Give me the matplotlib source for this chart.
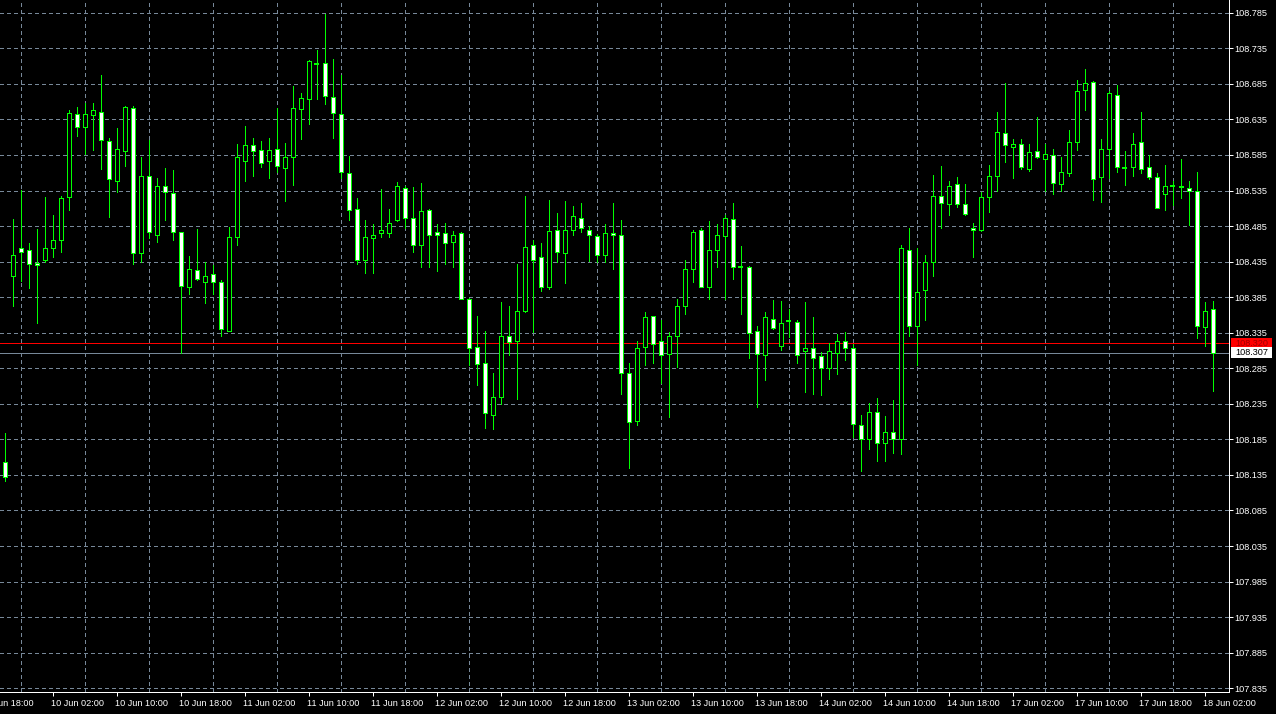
import matplotlib
matplotlib.use("Agg")
import matplotlib.pyplot as plt
import matplotlib.transforms as mtransforms
from matplotlib.patches import Rectangle
import numpy as np

# ----------------------------
# Data (H1 candles)
# ----------------------------
opens = [
    108.153, 108.415, 108.454, 108.451, 108.433, 108.438, 108.454, 108.466, 108.526, 108.642,
    108.625, 108.641, 108.646, 108.604, 108.549, 108.591, 108.651, 108.447, 108.555, 108.472,
    108.542, 108.531, 108.476, 108.400, 108.423, 108.407, 108.418, 108.406, 108.338, 108.469,
    108.577, 108.599, 108.592, 108.577, 108.593, 108.567, 108.582, 108.649, 108.664, 108.713,
    108.714, 108.667, 108.642, 108.559, 108.509, 108.438, 108.468, 108.475, 108.475, 108.493,
    108.538, 108.497, 108.459, 108.507, 108.476, 108.475, 108.462, 108.475, 108.383, 108.315,
    108.292, 108.220, 108.244, 108.330, 108.324, 108.365, 108.458, 108.441, 108.400, 108.479,
    108.447, 108.480, 108.497, 108.479, 108.471, 108.444, 108.475, 108.473, 108.278, 108.211,
    108.315, 108.358, 108.323, 108.305, 108.331, 108.372, 108.424, 108.479, 108.400, 108.452,
    108.471, 108.495, 108.428, 108.428, 108.337, 108.303, 108.355, 108.317, 108.351, 108.350,
    108.309, 108.313, 108.302, 108.285, 108.306, 108.324, 108.313, 108.205, 108.185, 108.223,
    108.180, 108.195, 108.185, 108.452, 108.345, 108.395, 108.435, 108.528, 108.516, 108.544,
    108.516, 108.483, 108.479, 108.526, 108.555, 108.616, 108.596, 108.600, 108.566, 108.590,
    108.580, 108.585, 108.544, 108.559, 108.603, 108.676, 108.687, 108.554, 108.593, 108.670,
    108.567, 108.568, 108.603, 108.568, 108.554, 108.530, 108.542, 108.541, 108.538, 108.535,
    108.343, 108.369,
]
highs = [
    108.194, 108.495, 108.536, 108.461, 108.481, 108.526, 108.501, 108.528, 108.648, 108.653,
    108.658, 108.658, 108.698, 108.609, 108.623, 108.654, 108.654, 108.582, 108.606, 108.552,
    108.567, 108.564, 108.477, 108.443, 108.481, 108.435, 108.430, 108.409, 108.484, 108.601,
    108.626, 108.609, 108.605, 108.609, 108.651, 108.602, 108.682, 108.672, 108.718, 108.733,
    108.783, 108.720, 108.698, 108.584, 108.524, 108.494, 108.488, 108.537, 108.509, 108.547,
    108.542, 108.540, 108.546, 108.509, 108.488, 108.489, 108.478, 108.476, 108.384, 108.359,
    108.337, 108.278, 108.378, 108.373, 108.432, 108.528, 108.465, 108.461, 108.521, 108.504,
    108.520, 108.513, 108.518, 108.485, 108.474, 108.488, 108.518, 108.493, 108.293, 108.323,
    108.364, 108.359, 108.353, 108.336, 108.382, 108.438, 108.480, 108.482, 108.492, 108.488,
    108.500, 108.518, 108.457, 108.429, 108.344, 108.364, 108.381, 108.379, 108.369, 108.353,
    108.378, 108.357, 108.308, 108.320, 108.333, 108.336, 108.319, 108.220, 108.236, 108.243,
    108.218, 108.241, 108.459, 108.483, 108.454, 108.445, 108.557, 108.570, 108.548, 108.554,
    108.544, 108.490, 108.533, 108.571, 108.646, 108.686, 108.607, 108.607, 108.601, 108.639,
    108.601, 108.594, 108.582, 108.620, 108.690, 108.706, 108.689, 108.607, 108.675, 108.683,
    108.590, 108.616, 108.645, 108.585, 108.559, 108.571, 108.549, 108.579, 108.549, 108.561,
    108.378, 108.379,
]
lows = [
    108.127, 108.373, 108.408, 108.398, 108.348, 108.435, 108.441, 108.448, 108.507, 108.612,
    108.586, 108.592, 108.566, 108.498, 108.533, 108.570, 108.432, 108.435, 108.468, 108.462,
    108.494, 108.466, 108.306, 108.390, 108.409, 108.377, 108.390, 108.331, 108.337, 108.458,
    108.548, 108.555, 108.568, 108.553, 108.561, 108.520, 108.543, 108.607, 108.628, 108.664,
    108.657, 108.609, 108.552, 108.494, 108.431, 108.419, 108.419, 108.469, 108.469, 108.492,
    108.483, 108.448, 108.428, 108.428, 108.422, 108.431, 108.428, 108.382, 108.289, 108.262,
    108.201, 108.199, 108.235, 108.303, 108.242, 108.364, 108.336, 108.394, 108.397, 108.435,
    108.405, 108.472, 108.476, 108.436, 108.434, 108.435, 108.424, 108.249, 108.145, 108.205,
    108.290, 108.292, 108.265, 108.217, 108.287, 108.362, 108.407, 108.399, 108.383, 108.428,
    108.383, 108.410, 108.362, 108.299, 108.230, 108.269, 108.340, 108.311, 108.329, 108.293,
    108.251, 108.249, 108.248, 108.270, 108.277, 108.296, 108.189, 108.140, 108.172, 108.154,
    108.155, 108.166, 108.165, 108.331, 108.289, 108.353, 108.415, 108.483, 108.501, 108.512,
    108.501, 108.442, 108.478, 108.505, 108.535, 108.575, 108.552, 108.566, 108.563, 108.581,
    108.535, 108.530, 108.534, 108.556, 108.592, 108.648, 108.521, 108.519, 108.552, 108.561,
    108.543, 108.555, 108.559, 108.551, 108.510, 108.508, 108.514, 108.525, 108.487, 108.327,
    108.317, 108.253,
]
closes = [
    108.132, 108.445, 108.449, 108.431, 108.430, 108.454, 108.466, 108.524, 108.644, 108.624,
    108.642, 108.648, 108.606, 108.551, 108.593, 108.652, 108.447, 108.556, 108.476, 108.542,
    108.533, 108.476, 108.401, 108.424, 108.410, 108.415, 108.407, 108.340, 108.469, 108.582,
    108.599, 108.590, 108.574, 108.592, 108.570, 108.582, 108.651, 108.665, 108.717, 108.713,
    108.668, 108.644, 108.561, 108.508, 108.438, 108.469, 108.473, 108.480, 108.490, 108.542,
    108.497, 108.459, 108.506, 108.473, 108.473, 108.461, 108.473, 108.383, 108.313, 108.291,
    108.222, 108.244, 108.331, 108.322, 108.365, 108.455, 108.438, 108.400, 108.478, 108.448,
    108.480, 108.499, 108.483, 108.472, 108.444, 108.475, 108.472, 108.278, 108.210, 108.313,
    108.357, 108.319, 108.303, 108.331, 108.372, 108.424, 108.476, 108.400, 108.452, 108.472,
    108.496, 108.427, 108.428, 108.334, 108.305, 108.357, 108.341, 108.348, 108.351, 108.303,
    108.313, 108.300, 108.285, 108.309, 108.324, 108.313, 108.206, 108.185, 108.223, 108.180,
    108.195, 108.185, 108.454, 108.344, 108.392, 108.435, 108.528, 108.518, 108.542, 108.516,
    108.502, 108.479, 108.526, 108.555, 108.617, 108.599, 108.601, 108.568, 108.589, 108.582,
    108.587, 108.545, 108.561, 108.603, 108.675, 108.686, 108.551, 108.593, 108.672, 108.568,
    108.567, 108.601, 108.566, 108.554, 108.511, 108.542, 108.542, 108.540, 108.535, 108.344,
    108.365, 108.307,
]

time_labels = [
    "10 Jun 02:00", "10 Jun 10:00", "10 Jun 18:00", "11 Jun 02:00", "11 Jun 10:00",
    "11 Jun 18:00", "12 Jun 02:00", "12 Jun 10:00", "12 Jun 18:00", "13 Jun 02:00",
    "13 Jun 10:00", "13 Jun 18:00", "14 Jun 02:00", "14 Jun 10:00", "14 Jun 18:00",
    "17 Jun 02:00", "17 Jun 10:00", "17 Jun 18:00", "18 Jun 02:00",
]
first_label = "9 Jun 18:00"

ask_price = 108.320
bid_price = 108.307

# ----------------------------
# Style (MT4 "green on black")
# ----------------------------
BG = "black"
FG = "white"
CANDLE = "#00FF00"
GRID = "#778899"
PX = 0.72  # 1 pixel in points at dpi=100
FS = 6.6

plt.rcParams["font.family"] = ["Liberation Sans", "DejaVu Sans"]

o = np.array(opens)
h = np.array(highs)
l = np.array(lows)
c = np.array(closes)
x = np.arange(len(o))

fig = plt.figure(figsize=(12.76, 7.14), dpi=100, facecolor=BG)
ax = fig.add_axes([0, 22 / 714, 1229 / 1276, 692 / 714], facecolor=BG)

# wicks
ax.vlines(x, l, h, color=CANDLE, linewidth=PX, antialiased=False, zorder=3)

# bodies: white = bearish, black = bullish
is_doji = o == c
body = ~is_doji
fills = np.where(c[body] < o[body], "white", "black")
ax.bar(x[body], np.abs(c[body] - o[body]), bottom=np.minimum(o, c)[body],
       width=0.5, color=fills, edgecolor=CANDLE, linewidth=PX,
       antialiased=False, zorder=4)
ax.hlines(o[is_doji], x[is_doji] - 0.3, x[is_doji] + 0.3,
          color=CANDLE, linewidth=2 * PX, antialiased=False, zorder=4)

# ask / bid lines
ax.axhline(ask_price, color="red", linewidth=PX, antialiased=False, zorder=2)
ax.axhline(bid_price, color=GRID, linewidth=PX, antialiased=False, zorder=2)

# ----------------------------
# Axes
# ----------------------------
ax.set_xlim(-0.5625, 153.06)
ax.set_ylim(107.8297, 108.803)

price_ticks = 107.835 + 0.05 * np.arange(20)
ax.yaxis.tick_right()
ax.set_yticks(price_ticks)
ax.set_yticklabels([f"{p:.3f}" for p in price_ticks])

label_pos = 6 + 8 * np.arange(len(time_labels))
ax.set_xticks(label_pos)
ax.set_xticklabels(time_labels, ha="left")
ax.set_xticks(2 + 4 * np.arange(38), minor=True)

ax.tick_params(axis="both", which="major", colors=FG, labelcolor=FG,
               labelsize=FS, length=3, width=PX)
ax.tick_params(axis="x", which="major", pad=2)
ax.tick_params(axis="y", which="major", pad=0.8)
ax.tick_params(axis="x", which="minor", length=0)

# time labels start just left of their tick, like the terminal does
shift = mtransforms.ScaledTranslation(-2 / 100, 0, fig.dpi_scale_trans)
for lab in ax.get_xticklabels():
    lab.set_transform(lab.get_transform() + shift)

ax.grid(True, which="minor", axis="x", color=GRID, linestyle=(0, (4, 3)),
        linewidth=PX, antialiased=False)
ax.grid(True, which="major", axis="y", color=GRID, linestyle=(0, (4, 3)),
        linewidth=PX, antialiased=False)
ax.set_axisbelow(True)

for side in ("left", "top"):
    ax.spines[side].set_visible(False)
for side in ("right", "bottom"):
    ax.spines[side].set_color(FG)
    ax.spines[side].set_linewidth(PX)

# partly hidden first time label at the left edge
ax.annotate(first_label, xy=(-2, 0), xycoords=ax.get_xaxis_transform(),
            xytext=(-1.44, -5), textcoords="offset points",
            ha="left", va="top", fontsize=FS, color=FG, annotation_clip=False)

# price tags on the right scale
ytr = ax.get_yaxis_transform()
tag_h = 0.0155
for price, face, txt in [(ask_price, "red", "#A00000"), (bid_price, "white", "black")]:
    ax.add_patch(Rectangle((1.0016, price - tag_h / 2), 0.0334, tag_h,
                           transform=ytr, facecolor=face, edgecolor="none",
                           clip_on=False, zorder=5))
    ax.text(1.0049, price, f"{price:.3f}", transform=ytr, ha="left", va="center",
            fontsize=FS, color=txt, clip_on=False, zorder=6)

plt.savefig("out.png", dpi=100, facecolor=BG)
